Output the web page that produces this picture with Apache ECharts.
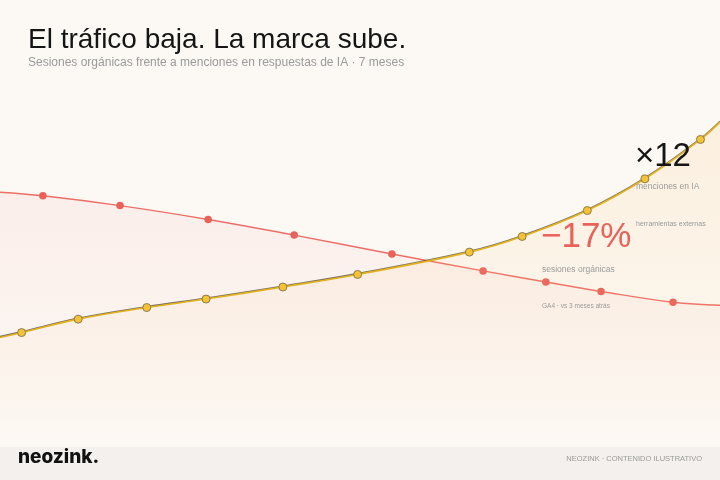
<!DOCTYPE html>
<html><head><meta charset="utf-8">
<script src="https://cdn.jsdelivr.net/npm/echarts@6/dist/echarts.min.js"></script>
<style>html,body{margin:0;padding:0;background:#fcf9f4}#c{width:720px;height:480px}</style>
</head><body><div id="c"></div>
<script>
// x = day within the 7-month window (0..210), y = index (0..100)
var sessionDays = [0, 12.5, 35, 60.7, 85.8, 114.3, 140.9, 159.2, 175.3, 196.3, 210];
var sessionValues = [57.0, 56.2, 54.0, 50.9, 47.4, 43.2, 39.4, 36.9, 34.8, 32.4, 31.7];
var mentionDays = [0, 6.3, 22.8, 42.8, 60.1, 82.5, 104.3, 136.9, 152.3, 171.3, 188.1, 204.3, 210];
var mentionValues = [24.5, 25.6, 28.6, 31.2, 33.1, 35.8, 38.6, 43.6, 47.1, 52.9, 60.0, 68.8, 72.7];

function pts(xs, ys) {
  return xs.map(function (x, i) {
    var d = { value: [x, ys[i]] };
    if (i === 0 || i === xs.length - 1) d.symbol = 'none';
    return d;
  });
}

var chart = echarts.init(document.getElementById('c'), null, { renderer: 'canvas' });
var FONT = '"Liberation Sans", Arial, Helvetica, sans-serif';
chart.setOption({
  backgroundColor: '#fcf9f4',
  animation: false,
  grid: { left: 0, right: 0, top: 0, bottom: 33 },
  xAxis: { type: 'value', min: 0, max: 210, show: false },
  yAxis: { type: 'value', min: 0, max: 100, show: false },
  title: {
    left: 23, top: 21,
    text: 'El tráfico baja. La marca sube.',
    subtext: 'Sesiones orgánicas frente a menciones en respuestas de IA · 7 meses',
    itemGap: 3,
    textStyle: { fontFamily: FONT, fontSize: 28, fontWeight: 'normal', color: '#151515' },
    subtextStyle: { fontFamily: FONT, fontSize: 12, color: '#9a9a9a' }
  },
  series: [
    {
      name: 'sesiones orgánicas', type: 'line', smooth: 0.4, z: 2,
      data: pts(sessionDays, sessionValues),
      symbol: 'circle', symbolSize: 7.5,
      itemStyle: { color: '#e8625a', borderColor: '#e8625a', borderWidth: 0 },
      lineStyle: { color: '#ec6f67', width: 1.5 },
      areaStyle: {
        color: new echarts.graphic.LinearGradient(0, 0, 0, 1, [
          { offset: 0, color: 'rgba(240,120,130,0.12)' },
          { offset: 1, color: 'rgba(240,120,130,0)' }
        ])
      }
    },
    {
      name: 'menciones en IA', type: 'line', smooth: 0.4, z: 3,
      data: pts(mentionDays, mentionValues),
      symbol: 'circle', symbolSize: 8,
      itemStyle: { color: '#f4c232', borderColor: '#8c7c52', borderWidth: 1 },
      lineStyle: { color: '#e2b21f', width: 1.6, shadowColor: 'rgba(70,60,40,0.7)', shadowOffsetY: -0.8, shadowBlur: 0 },
      areaStyle: {
        color: new echarts.graphic.LinearGradient(0, 0, 0, 1, [
          { offset: 0, color: 'rgba(250,195,120,0.25)' },
          { offset: 1, color: 'rgba(250,195,120,0)' }
        ])
      }
    }
  ],
  graphic: [
    { type: 'rect', left: 0, top: 447, shape: { width: 720, height: 33 }, style: { fill: '#f3f0ed' }, z: 10 },
    { type: 'text', left: 18, top: 448, z: 11, style: { text: 'neozink.', font: '800 19px Inter, "Liberation Sans", sans-serif', fill: '#111' } },
    { type: 'text', right: 18, top: 455, z: 11, style: { text: 'NEOZINK · CONTENIDO ILUSTRATIVO', font: '7.5px ' + FONT, fill: '#9a9a9a' } },
    { type: 'text', left: 635, top: 140, z: 11, style: { text: '×12', font: '33px ' + FONT, fill: '#151515' } },
    { type: 'text', left: 636, top: 182, z: 11, style: { text: 'menciones en IA', font: '8.5px ' + FONT, fill: '#9a9a9a' } },
    { type: 'text', left: 636, top: 221, z: 11, style: { text: 'herramientas externas', font: '7px ' + FONT, fill: '#9a9a9a' } },
    { type: 'text', left: 541, top: 220, z: 11, style: { text: '−17%', font: '35px ' + FONT, fill: '#e8625a' } },
    { type: 'text', left: 542, top: 265, z: 11, style: { text: 'sesiones orgánicas', font: '8.5px ' + FONT, fill: '#9a9a9a' } },
    { type: 'text', left: 542, top: 303, z: 11, style: { text: 'GA4 · vs 3 meses atrás', font: '6.5px ' + FONT, fill: '#9a9a9a' } }
  ]
});
</script></body></html>
